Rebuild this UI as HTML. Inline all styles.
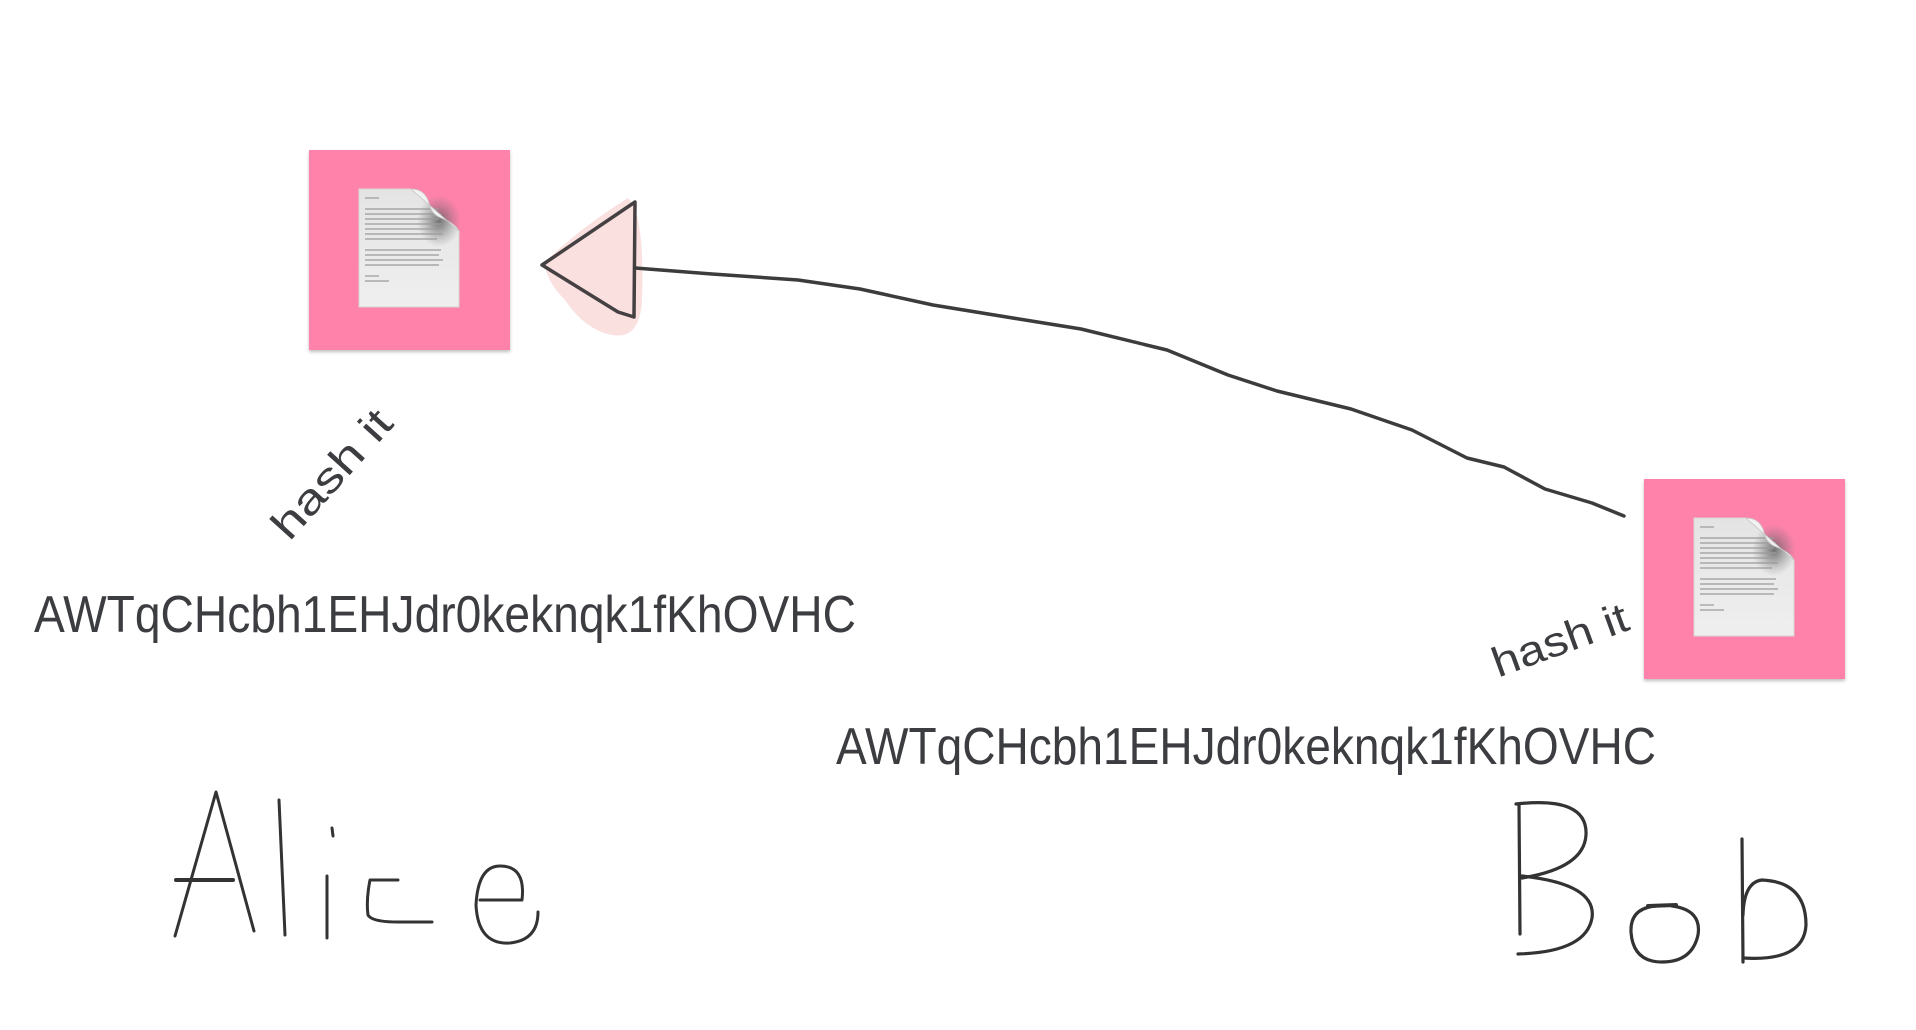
<!DOCTYPE html>
<html><head><meta charset="utf-8"><style>
html,body{margin:0;padding:0;background:#fff;width:1916px;height:1030px;overflow:hidden}
svg{display:block}
text{font-family:"Liberation Sans",sans-serif;fill:#3c3d40}
</style></head><body>
<svg width="1916" height="1030" viewBox="0 0 1916 1030" xmlns="http://www.w3.org/2000/svg">
<defs>
<linearGradient id="pg" x1="0" y1="0" x2="0" y2="1"><stop offset="0" stop-color="#e4e4e4"/><stop offset="1" stop-color="#efefef"/></linearGradient>
<radialGradient id="sh" cx="0.5" cy="0.5" r="0.5"><stop offset="0" stop-color="#555" stop-opacity="0.8"/><stop offset="1" stop-color="#777" stop-opacity="0"/></radialGradient>
<filter id="ds" x="-10%" y="-10%" width="120%" height="125%"><feDropShadow dx="0" dy="2" stdDeviation="1.5" flood-color="#000" flood-opacity="0.25"/></filter>
<g id="doc">
<path d="M0,0 L52,0 L100,42 L100,118 L0,118 Z" fill="url(#pg)" stroke="#d6d6d6" stroke-width="1"/>
<ellipse cx="80" cy="32" rx="22" ry="26" fill="url(#sh)"/>
<g stroke="#9a9a9a" stroke-width="1.2">
<line x1="6" y1="9" x2="20" y2="9"/>
<line x1="6" y1="20" x2="80" y2="20"/><line x1="6" y1="25" x2="82" y2="25"/><line x1="6" y1="30" x2="80" y2="30"/><line x1="6" y1="35" x2="82" y2="35"/><line x1="6" y1="40" x2="84" y2="40"/><line x1="6" y1="45" x2="84" y2="45"/><line x1="6" y1="50" x2="78" y2="50"/>
<line x1="6" y1="61" x2="82" y2="61"/><line x1="6" y1="66" x2="80" y2="66"/><line x1="6" y1="71" x2="84" y2="71"/><line x1="6" y1="76" x2="80" y2="76"/>
<line x1="6" y1="87" x2="20" y2="87"/><line x1="6" y1="92" x2="30" y2="92"/>
</g>
<path d="M52,0 Q66,0 70,14 Q72,24 80,28 Q96,34 100,42 Z" fill="#f2f2f2" stroke="#c8c8c8" stroke-width="0.8"/>
</g>
</defs>

<rect x="309" y="150" width="201" height="200" fill="#ff82ab" filter="url(#ds)"/>
<use href="#doc" x="359" y="189"/>
<rect x="1644" y="479" width="201" height="200" fill="#ff82ab" filter="url(#ds)"/>
<use href="#doc" x="1694" y="518"/>

<path d="M545,262 Q580,228 628,198 Q645,215 642,300 Q640,340 612,335 Q585,330 565,300 Q545,280 545,262 Z" fill="#fbe0e0"/>
<path d="M542,265 L635,202 L634,317 L618,312 Z" fill="#fbe0e0" stroke="#454042" stroke-width="3.5" stroke-linejoin="round"/>
<path d="M635,268 L712,274 L798,280 L860,289 L933,305 L1019,319 L1081,329 L1167,350 L1228,375 L1277,391 L1351,409 L1412,430 L1467,458 L1504,467 L1545,489 L1592,503 L1624,516" fill="none" stroke="#3c3c3c" stroke-width="3.5" stroke-linejoin="round" stroke-linecap="round"/>

<text x="0" y="0" font-size="42" transform="translate(334,476) rotate(-48)" text-anchor="middle" dominant-baseline="middle" textLength="158" lengthAdjust="spacingAndGlyphs">hash it</text>
<text x="0" y="0" font-size="42" transform="translate(1561,643) rotate(-20)" text-anchor="middle" dominant-baseline="middle" textLength="142" lengthAdjust="spacingAndGlyphs">hash it</text>

<text x="34" y="632" font-size="52" textLength="822" lengthAdjust="spacingAndGlyphs">AWTqCHcbh1EHJdr0keknqk1fKhOVHC</text>
<text x="836" y="764" font-size="52" textLength="820" lengthAdjust="spacingAndGlyphs">AWTqCHcbh1EHJdr0keknqk1fKhOVHC</text>

<g fill="none" stroke="#333" stroke-width="3" stroke-linecap="round" stroke-linejoin="round">
<path d="M175,936 L216,792 L254,931"/>
<path d="M176,880 L233,880" stroke-width="4"/>
<path d="M279,800 L285,935"/>
<path d="M327,876 L327,938"/>
<path d="M332,828 L333,836"/>
<path d="M398,880 L370,880 Q366,900 368,915 Q372,922 398,922 L432,922"/>
<path d="M480,900 L522,900 Q526,866 500,866 Q478,866 476,905 Q478,945 510,943 Q538,940 538,912"/>
</g>
<g fill="none" stroke="#333" stroke-width="3.2" stroke-linecap="round" stroke-linejoin="round">
<path d="M1519,804 L1520,934"/>
<path d="M1516,804 Q1588,796 1586,835 Q1584,868 1522,878"/>
<path d="M1522,876 Q1597,884 1592,918 Q1586,952 1518,954"/>
<path d="M1656,906 Q1630,908 1631,932 Q1633,962 1662,962 Q1692,962 1698,935 Q1702,910 1672,906"/>
<path d="M1648,906 L1676,905" stroke-width="4"/>
<path d="M1742,839 L1743,962"/>
<path d="M1743,958 Q1804,962 1806,925 Q1806,882 1762,880 Q1744,882 1743,915"/>
</g>
</svg>
</body></html>
